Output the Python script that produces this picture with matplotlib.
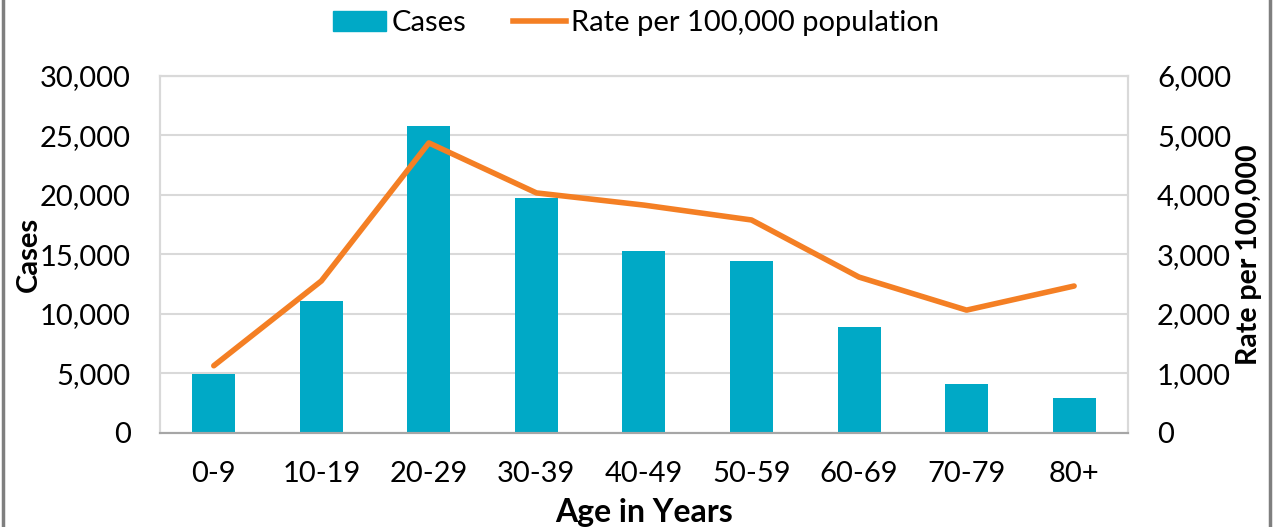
import matplotlib
matplotlib.use("Agg")
import matplotlib.pyplot as plt
from matplotlib.patches import Rectangle
from matplotlib.ticker import FuncFormatter, MultipleLocator
from matplotlib.lines import Line2D

categories = ["0-9", "10-19", "20-29", "30-39", "40-49", "50-59", "60-69", "70-79", "80+"]
cases = [4950, 11050, 25800, 19750, 15300, 14450, 8900, 4120, 2950]
rate = [1130, 2555, 4875, 4035, 3830, 3580, 2620, 2065, 2470]

plt.rcParams['font.family'] = ['Lato', 'DejaVu Sans']

fig = plt.figure(figsize=(12.73, 5.27), dpi=100)
ax = fig.add_axes([0.1257, 0.1784, 0.886 - 0.1257, 0.8558 - 0.1784])
ax2 = ax.twinx()

x = list(range(len(categories)))
bar_color = "#00A9C6"
line_color = "#F47F24"
ax.bar(x, cases, width=0.4, color=bar_color, zorder=2)
ax2.plot(x, rate, color=line_color, lw=4, solid_capstyle='round', zorder=3)

ax.set_xlim(-0.5, len(categories) - 0.5)
ax.set_ylim(0, 30000)
ax2.set_ylim(0, 6000)
ax.yaxis.set_major_locator(MultipleLocator(5000))
ax2.yaxis.set_major_locator(MultipleLocator(1000))
fmt = FuncFormatter(lambda v, p: f"{int(v):,}")
ax.yaxis.set_major_formatter(fmt)
ax2.yaxis.set_major_formatter(fmt)
ax.set_xticks(x)
ax.set_xticklabels(categories)

ax.grid(axis='y', color='#D9D9D9', lw=1.5, zorder=0)
ax.set_axisbelow(True)
for a in (ax, ax2):
    for s in ['top', 'left', 'right']:
        a.spines[s].set_color('#D9D9D9')
        a.spines[s].set_linewidth(1.5)
    a.spines['bottom'].set_color('#A6A6A6')
    a.spines['bottom'].set_linewidth(1.5)
    a.tick_params(length=0, labelsize=21, colors='black')
ax.tick_params(axis='y', pad=21)
ax2.tick_params(axis='y', pad=21)
ax.tick_params(axis='x', pad=20)

ax.set_ylabel("Cases", fontsize=21, fontweight='bold')
ax2.set_ylabel("Rate per 100,000", fontsize=20.5, fontweight='bold')
ax.yaxis.label.set_va('center')
ax2.yaxis.label.set_va('center')
ax.yaxis.set_label_coords(-0.136, 0.5)
ax2.yaxis.set_label_coords(1.125, 0.5)
ax.set_xlabel("Age in Years", fontsize=23, fontweight='bold', labelpad=8)

handles = [Rectangle((0, 0), 1, 1, color=bar_color), Line2D([0], [0], color=line_color, lw=4)]
fig.legend(handles, ["Cases", "Rate per 100,000 population"], loc='upper center',
           bbox_to_anchor=(0.5, 1.03), ncol=2, frameon=False, fontsize=21,
           handlelength=1.8, handletextpad=0.2, columnspacing=1.6)

fig.patches.append(Rectangle((0.002, -0.1), 0.996, 1.3, transform=fig.transFigure,
                             fill=False, edgecolor='#7F7F7F', lw=2.5))

fig.savefig("out.png", dpi=100)
